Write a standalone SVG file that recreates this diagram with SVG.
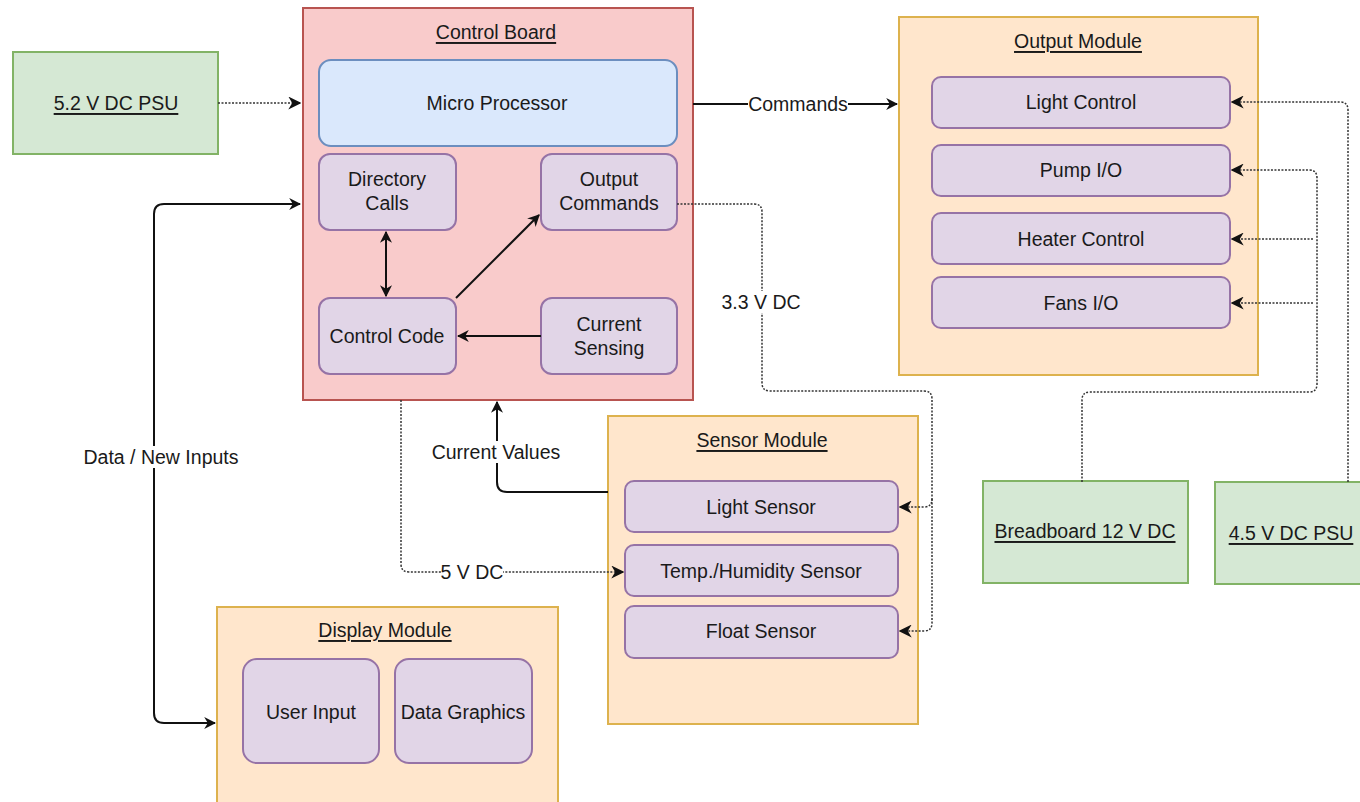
<svg xmlns="http://www.w3.org/2000/svg" width="1360" height="802" viewBox="0 0 1360 802">
<style>
text{font-family:"Liberation Sans",Arial,sans-serif;font-size:19.5px;fill:#1a1a1a;text-anchor:middle;dominant-baseline:central}
.u{text-decoration:underline}
.psu{fill:#d5e8d4;stroke:#82b366;stroke-width:2}
.board{fill:#f9cbcb;stroke:#b85450;stroke-width:2}
.mod{fill:#ffe6cc;stroke:#ddb24e;stroke-width:2}
.item{fill:#e1d5e7;stroke:#9673a6;stroke-width:2}
.cpu{fill:#dae8fc;stroke:#6c8ebf;stroke-width:2}
.s{fill:none;stroke:#111;stroke-width:2}
.d{fill:none;stroke:#333;stroke-width:1.5;stroke-dasharray:2 1.5}
.bg{fill:#fff}
</style>
<defs>
<marker id="ar" viewBox="0 0 10 10" refX="9" refY="5" markerWidth="12" markerHeight="12" markerUnits="userSpaceOnUse" orient="auto-start-reverse"><path d="M0,0 L10,5 L0,10 L3,5 Z" fill="#111"/></marker>
<marker id="ad" viewBox="0 0 10 10" refX="9" refY="5" markerWidth="13" markerHeight="13" markerUnits="userSpaceOnUse" orient="auto-start-reverse"><path d="M0,0 L10,5 L0,10 L3,5 Z" fill="#111"/></marker>
</defs>

<g id="psu52"><rect class="psu" x="13" y="52" width="205" height="102"/><text class="u" x="116" y="103">5.2 V DC PSU</text></g>

<g id="control-board">
<rect class="board" x="303" y="8" width="390" height="392"/>
<text class="u" x="496" y="32">Control Board</text>
</g>
<g id="micro-processor"><rect class="cpu" x="319" y="60" width="358" height="86" rx="12"/><text x="497" y="103">Micro Processor</text></g>
<g id="directory-calls"><rect class="item" x="319" y="154" width="137" height="76" rx="11"/><text x="387" y="179">Directory</text><text x="387" y="203">Calls</text></g>
<g id="output-commands"><rect class="item" x="541" y="154" width="136" height="76" rx="11"/><text x="609" y="179">Output</text><text x="609" y="203">Commands</text></g>
<g id="control-code"><rect class="item" x="319" y="298" width="137" height="76" rx="11"/><text x="387" y="336">Control Code</text></g>
<g id="current-sensing"><rect class="item" x="541" y="298" width="136" height="76" rx="11"/><text x="609" y="324">Current</text><text x="609" y="348">Sensing</text></g>

<g id="output-module">
<rect class="mod" x="899" y="17" width="359" height="358"/>
<text class="u" x="1078" y="41">Output Module</text>
</g>
<g id="light-control"><rect class="item" x="932" y="77" width="298" height="51" rx="9"/><text x="1081" y="102">Light Control</text></g>
<g id="pump-io"><rect class="item" x="932" y="145" width="298" height="51" rx="9"/><text x="1081" y="170">Pump I/O</text></g>
<g id="heater-control"><rect class="item" x="932" y="213" width="298" height="51" rx="9"/><text x="1081" y="239">Heater Control</text></g>
<g id="fans-io"><rect class="item" x="932" y="277" width="298" height="51" rx="9"/><text x="1081" y="303">Fans I/O</text></g>

<g id="sensor-module">
<rect class="mod" x="608" y="416" width="310" height="308"/>
<text class="u" x="762" y="440">Sensor Module</text>
</g>
<g id="light-sensor"><rect class="item" x="625" y="481" width="273" height="51" rx="9"/><text x="761" y="507">Light Sensor</text></g>
<g id="temp-sensor"><rect class="item" x="625" y="545" width="273" height="51" rx="9"/><text x="761" y="571">Temp./Humidity Sensor</text></g>
<g id="float-sensor"><rect class="item" x="625" y="606" width="273" height="52" rx="9"/><text x="761" y="631">Float Sensor</text></g>

<g id="display-module">
<rect class="mod" x="217" y="607" width="341" height="200"/>
<text class="u" x="385" y="630">Display Module</text>
</g>
<g id="user-input"><rect class="item" x="243" y="659" width="136" height="104" rx="14"/><text x="311" y="712">User Input</text></g>
<g id="data-graphics"><rect class="item" x="395" y="659" width="137" height="104" rx="14"/><text x="463" y="712">Data Graphics</text></g>

<g id="breadboard"><rect class="psu" x="983" y="481" width="205" height="102"/><text class="u" x="1085" y="531">Breadboard 12 V DC</text></g>
<g id="psu45"><rect class="psu" x="1215" y="482" width="160" height="102"/><text class="u" x="1291" y="533">4.5 V DC PSU</text></g>

<g id="connectors">
<path class="d" d="M218,103 H300" marker-end="url(#ad)"/>
<path class="s" d="M693,104 H897" marker-end="url(#ar)"/>
<path class="s" d="M386,232 V296" marker-start="url(#ar)" marker-end="url(#ar)"/>
<path class="s" d="M456,298 L539,215" marker-end="url(#ar)"/>
<path class="s" d="M541,336 H458" marker-end="url(#ar)"/>
<path class="s" d="M300,204 H164 Q154,204 154,214 V713 Q154,723 164,723 H215" marker-start="url(#ar)" marker-end="url(#ar)"/>
<path class="s" d="M608,492 H507 Q497,492 497,482 V402" marker-end="url(#ar)"/>
<path class="d" d="M401,400 V564 Q401,572 409,572 H623" marker-end="url(#ad)"/>
<path class="d" d="M677,204 H754 Q762,204 762,212 V383 Q762,391 770,391 H924 Q932,391 932,399 V499 Q932,507 924,507 H900" marker-end="url(#ad)"/>
<path class="d" d="M932,499 V623 Q932,631 924,631 H900" marker-end="url(#ad)"/>
<path class="d" d="M1348,482 V110 Q1348,102 1340,102 H1232" marker-end="url(#ad)"/>
<path class="d" d="M1082,482 V400 Q1082,392 1090,392 H1309 Q1317,392 1317,384 V178 Q1317,170 1309,170 H1232" marker-end="url(#ad)"/>
<path class="d" d="M1313,239 H1232" marker-end="url(#ad)"/>
<path class="d" d="M1313,303 H1232" marker-end="url(#ad)"/>
<rect class="bg" x="748" y="93" width="100" height="22"/>
<text x="798" y="104">Commands</text>
<rect class="bg" x="720" y="291" width="82" height="22"/>
<text x="761" y="302">3.3 V DC</text>
<rect class="bg" x="430" y="441" width="132" height="22"/>
<text x="496" y="452">Current Values</text>
<rect class="bg" x="442" y="561" width="61" height="22"/>
<text x="472" y="572">5 V DC</text>
<rect class="bg" x="82" y="446" width="159" height="22"/>
<text x="161" y="457">Data / New Inputs</text>
</g>
</svg>
